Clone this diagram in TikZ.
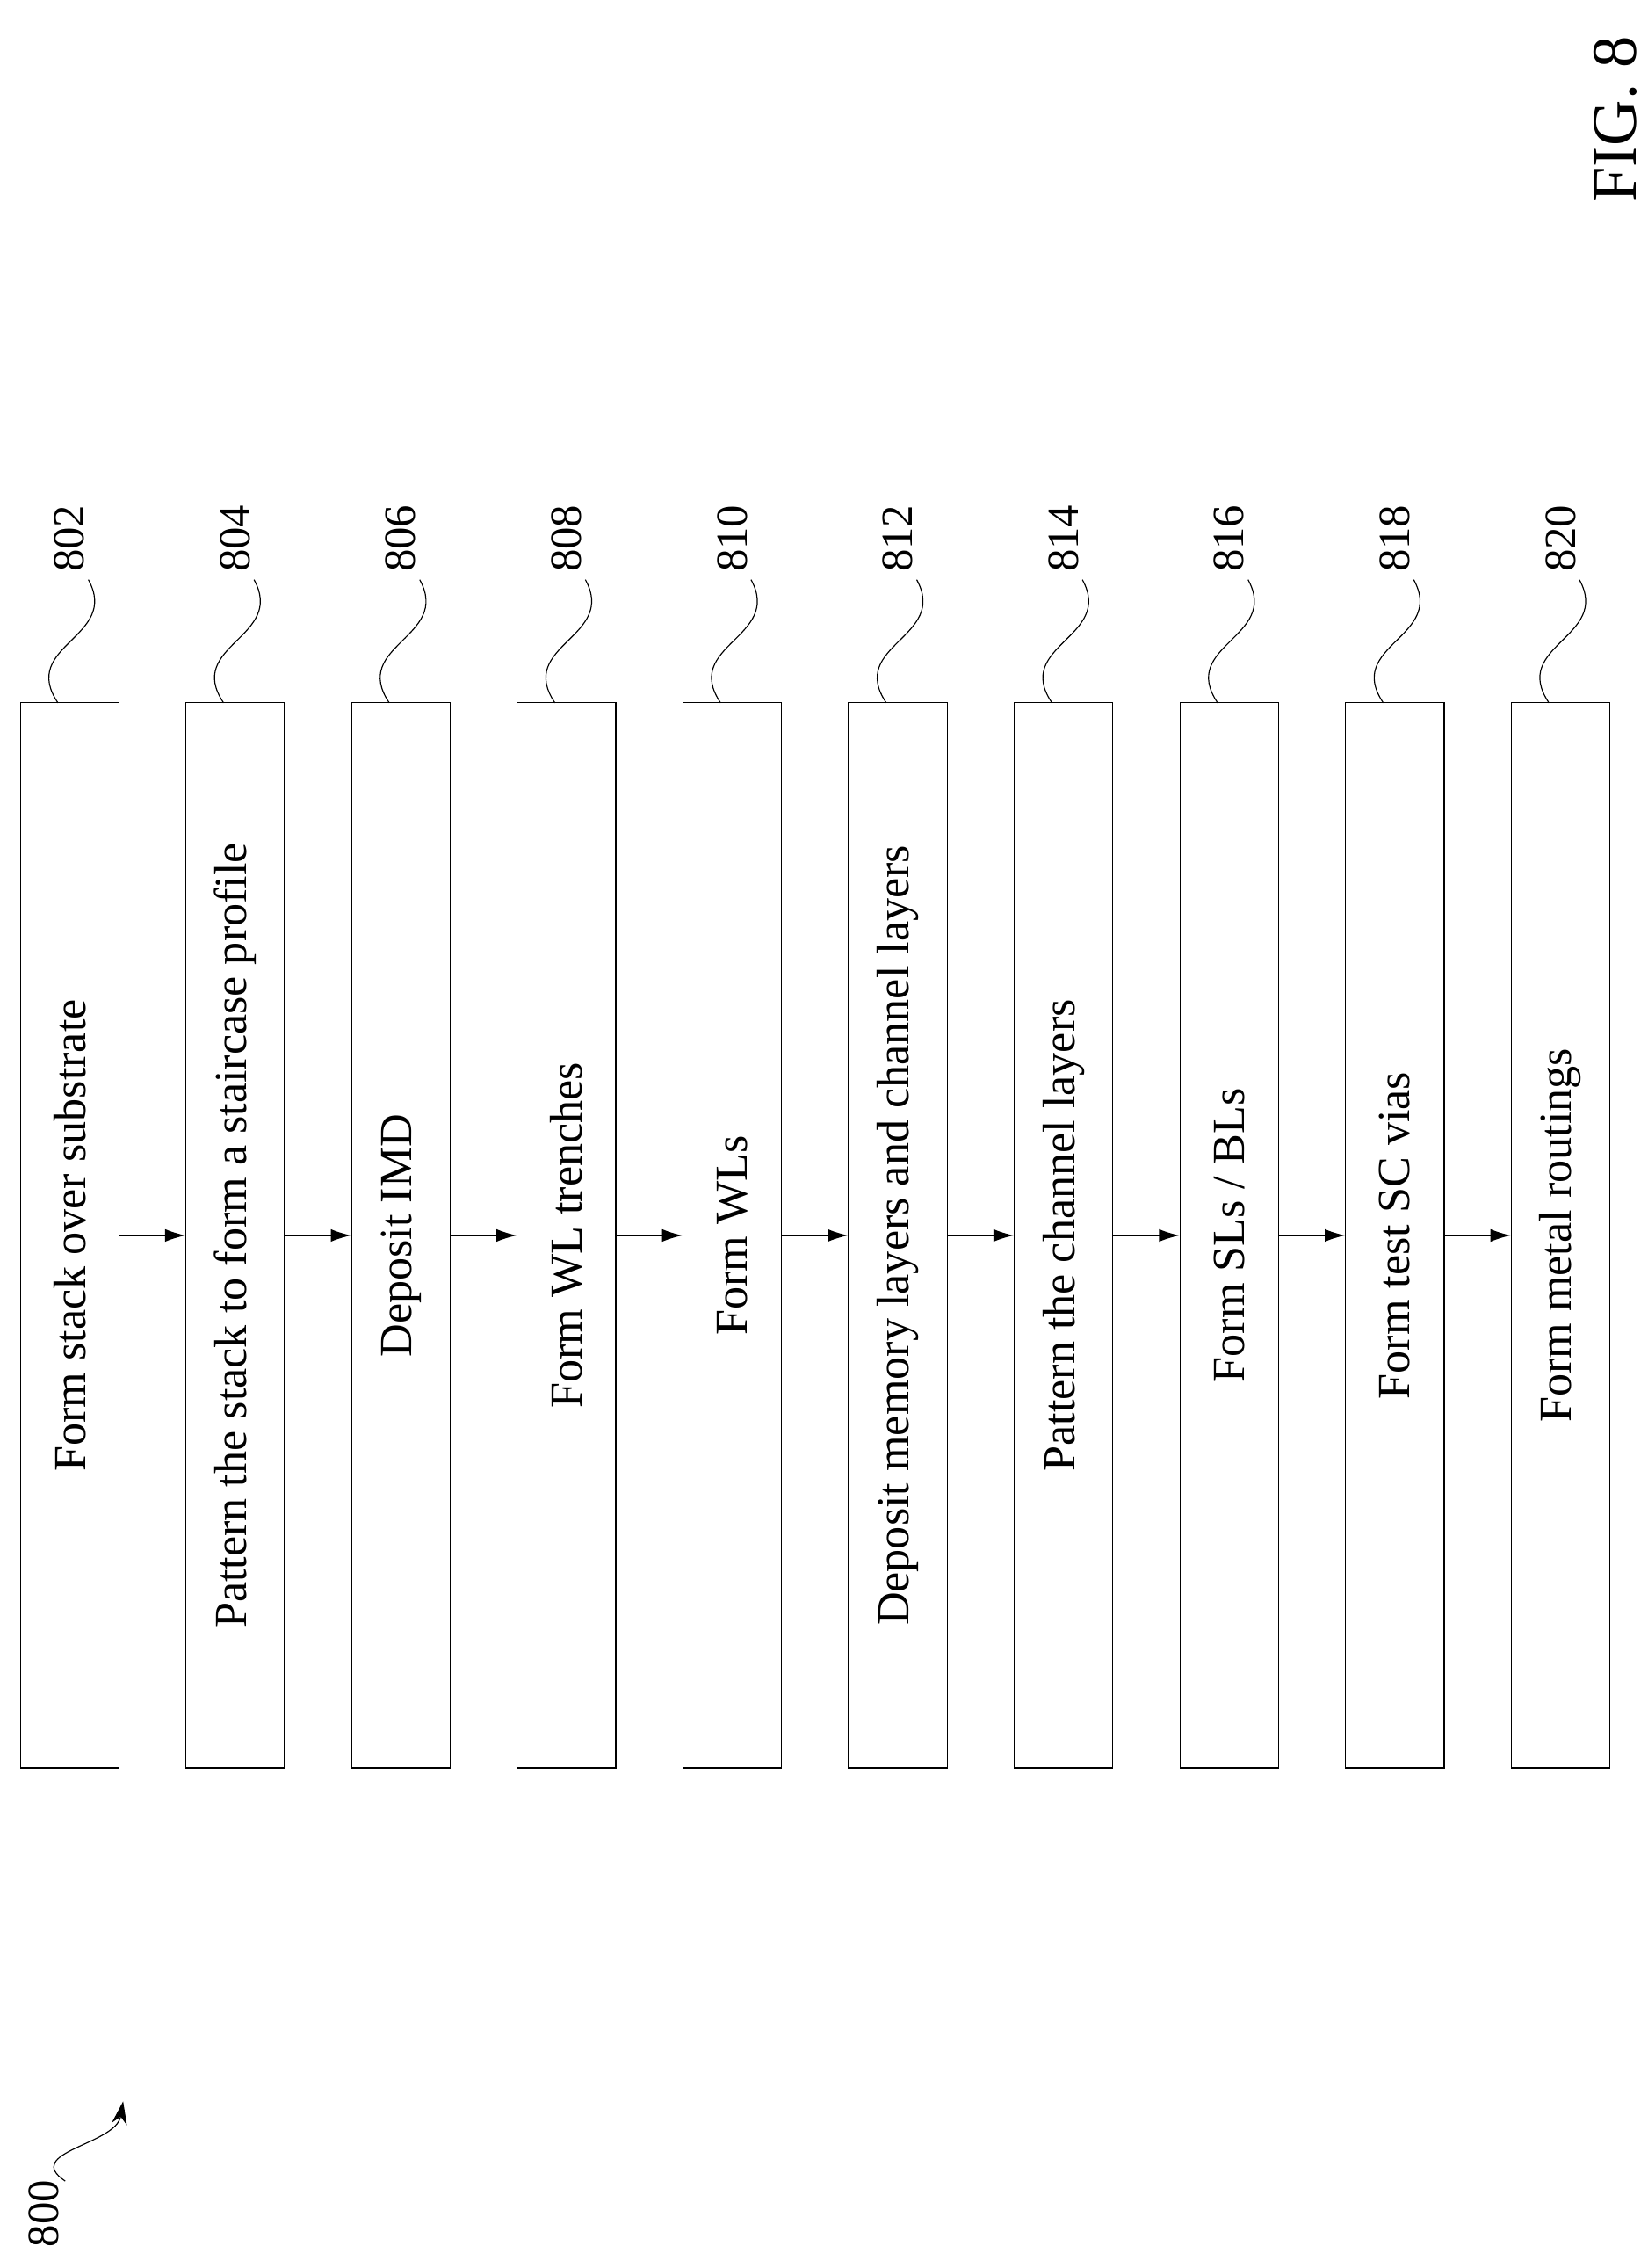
\documentclass[tikz,border=0pt]{standalone}
\usepackage{fontspec}
\setmainfont{Liberation Serif}
\usetikzlibrary{arrows.meta}
\begin{document}
\begin{tikzpicture}[x=1cm, y=1cm,
    stepbox/.style={draw, rotate=90, minimum width=14.7cm, minimum height=1.36cm, inner sep=0pt, font=\fontsize{18}{21}\selectfont},
    reflabel/.style={rotate=90, anchor=west, inner sep=0pt, font=\fontsize{17.5}{20}\selectfont}]
    \useasboundingbox (0,0) rectangle (22.74,-31.3);
    \foreach \t [count=\i from 0] in {Form stack over substrate, Pattern the stack to form a staircase profile, Deposit IMD, Form WL trenches, Form WLs, Deposit memory layers and channel layers, Pattern the channel layers, Form SLs / BLs, Form test SC vias, Form metal routings} {
        \pgfmathsetmacro{\cx}{0.96 + \i*2.287}
        \pgfmathtruncatemacro{\num}{802 + 2*\i}
        \node[stepbox] (step\i) at (\cx,-17.05) {\t};
        \coordinate (tail\i) at ({\cx-0.16},-9.7);
        \coordinate (head\i) at ({\cx+0.26},-8.0);
        \draw (tail\i) .. controls ({\cx-0.7},-8.9) and ({\cx+0.7},-8.8) .. (head\i);
        \node[reflabel] (ref\i) at ({\cx},-7.9) {\num};
    }
    % arrows between the steps
    \foreach \i in {0,...,8} {
        \pgfmathtruncatemacro{\next}{\i+1}
        \draw[-{Latex[length=8pt,width=5pt]}] (step\i.south) -- (step\next.north);
    }
    \coordinate (figtail) at (0.9,-30.1);
    \coordinate (fighead) at (1.7,-29.0);
    \node[rotate=90, inner sep=0pt, font=\fontsize{17.5}{20}\selectfont] (fignum) at (0.6,-30.55) {800};
    \draw[-{Stealth[length=9pt,width=6pt]}] (figtail) .. controls (0.3,-29.7) and (1.6,-29.6) .. (fighead);
    \node[rotate=90, inner sep=0pt, font=\fontsize{25}{28}\selectfont] (figname) at (22.3,-1.65) {FIG. 8};
\end{tikzpicture}
\end{document}
